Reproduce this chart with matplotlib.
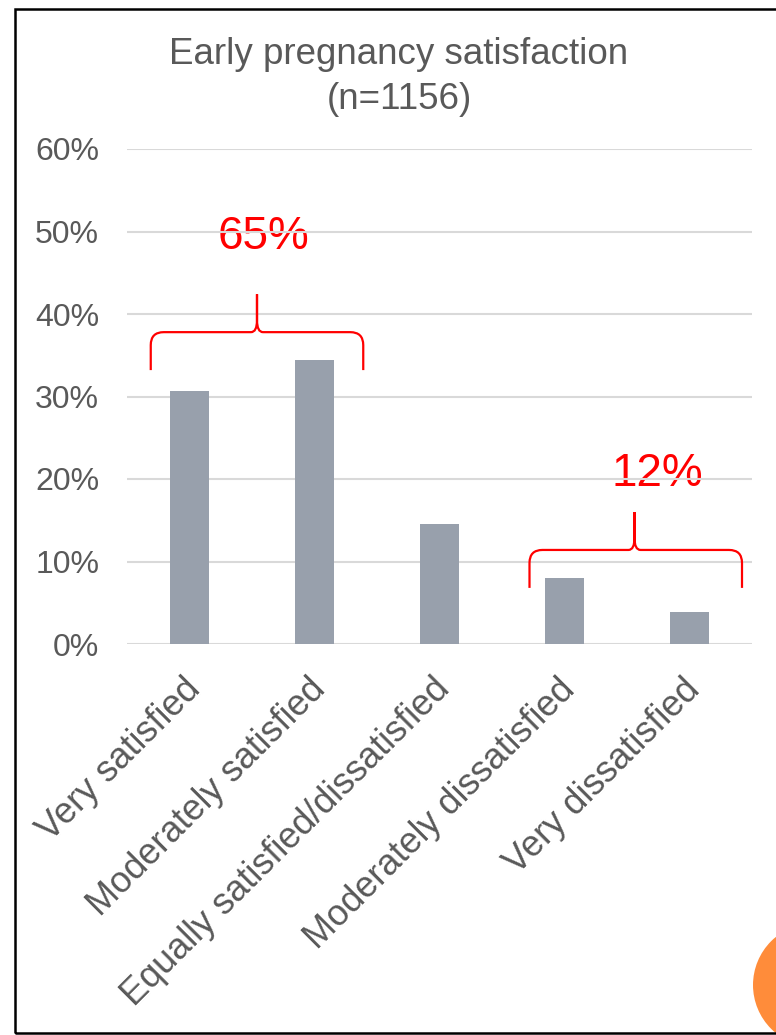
import matplotlib
matplotlib.use("Agg")
import matplotlib.pyplot as plt
from matplotlib.path import Path
from matplotlib.patches import PathPatch, Rectangle, Ellipse
from matplotlib.ticker import FuncFormatter
from matplotlib.transforms import ScaledTranslation

categories = ["Very satisfied", "Moderately satisfied", "Equally satisfied/dissatisfied",
              "Moderately dissatisfied", "Very dissatisfied"]
values = [30.7, 34.4, 14.5, 8.0, 3.9]
yticks = [0, 10, 20, 30, 40, 50, 60]
title = "Early pregnancy satisfaction\n(n=1156)"
groups = [[0, 1], [3, 4]]

plt.rcParams['font.family'] = ['Liberation Sans', 'DejaVu Sans']
GREY_TXT = "#595959"
BAR = "#98A0AC"
GRID = "#D9D9D9"
RED = "#FF0000"

W, H = 776, 1035
fig = plt.figure(figsize=(W / 100, H / 100), dpi=100)
ax = fig.add_axes([127 / W, 1 - 644 / H, (752 - 127) / W, (644 - 149) / H])

x = list(range(len(categories)))
ax.bar(x, values, width=0.31, color=BAR, zorder=2)
ax.set_xlim(-0.5, len(categories) - 0.5)
ax.set_ylim(0, 60)
ax.set_yticks(yticks)
ax.yaxis.set_major_formatter(FuncFormatter(lambda v, p: f"{v:.0f}%"))
ax.grid(axis='y', color=GRID, linewidth=1.5, zorder=1)
ax.set_axisbelow(True)
for s in ax.spines.values():
    s.set_visible(False)
ax.tick_params(axis='both', length=0, colors=GREY_TXT)
ax.tick_params(axis='y', labelsize=23, pad=20)
ax.set_xticks(x)
ax.set_xticklabels(categories, rotation=45, ha='right', rotation_mode='anchor',
                   fontsize=26, color=GREY_TXT)
ax.tick_params(axis='x', pad=20)
shift = ScaledTranslation(-7 / 100, 0, fig.dpi_scale_trans)
for lab in ax.get_xticklabels():
    lab.set_transform(lab.get_transform() + shift)

fig.text(399 / W, 1 - 77 / H, title, ha='center', va='center', fontsize=26.5,
         color=GREY_TXT, linespacing=1.4)

# px -> data scale
sx = 1 / 125.0
sy = 60 / (644 - 149)


def brace(x0, x1, xm, yh, yend, ytop):
    rx, ry = 13 * sx, 13 * sy
    cx, cy = 6 * sx, 12 * sy
    verts = [(x0, yend), (x0, yh - ry), (x0, yh), (x0 + rx, yh),
             (xm - cx, yh), (xm, yh), (xm, yh + cy), (xm, ytop),
             (xm, yh + cy), (xm, yh), (xm + cx, yh),
             (x1 - rx, yh), (x1, yh), (x1, yh - ry), (x1, yend)]
    codes = [Path.MOVETO, Path.LINETO, Path.CURVE3, Path.CURVE3,
             Path.LINETO, Path.CURVE3, Path.CURVE3, Path.LINETO,
             Path.LINETO, Path.CURVE3, Path.CURVE3,
             Path.LINETO, Path.CURVE3, Path.CURVE3, Path.LINETO]
    ax.add_patch(PathPatch(Path(verts, codes), fill=False, edgecolor=RED,
                           linewidth=1.6, zorder=3, clip_on=False))


ann = [dict(dx0=-0.31, dx1=0.39, dxm=0.54, dtx=0.59, dty=11.5),
       dict(dx0=-0.28, dx1=0.42, dxm=0.56, dtx=0.74, dty=9.2)]
for g, a in zip(groups, ann):
    top = max(values[i] for i in g)
    yh = top + 3.4
    x0 = g[0] + a['dx0']
    x1 = g[-1] + a['dx1']
    xm = g[0] + a['dxm']
    brace(x0, x1, xm, yh, yh - 4.6, yh + 4.6)
    total = sum(values[i] for i in g)
    ax.text(g[0] + a['dtx'], yh + a['dty'], f"{total:.0f}%", color=RED,
            fontsize=33, ha='center', va='center', zorder=0.5)

# slide decorations: frame and orange circle
fig.patches.append(Ellipse((815 / W, 1 - 985 / H), 124 / W, 124 / H,
                           transform=fig.transFigure, facecolor="#FF8C3A",
                           edgecolor='none', zorder=0))
fig.patches.append(Rectangle((15 / W, 1 - 1033 / H), 1.0, (1033 - 9) / H,
                             transform=fig.transFigure, fill=False,
                             edgecolor='black', linewidth=1.8, zorder=5))

fig.savefig("out.png", dpi=100)
